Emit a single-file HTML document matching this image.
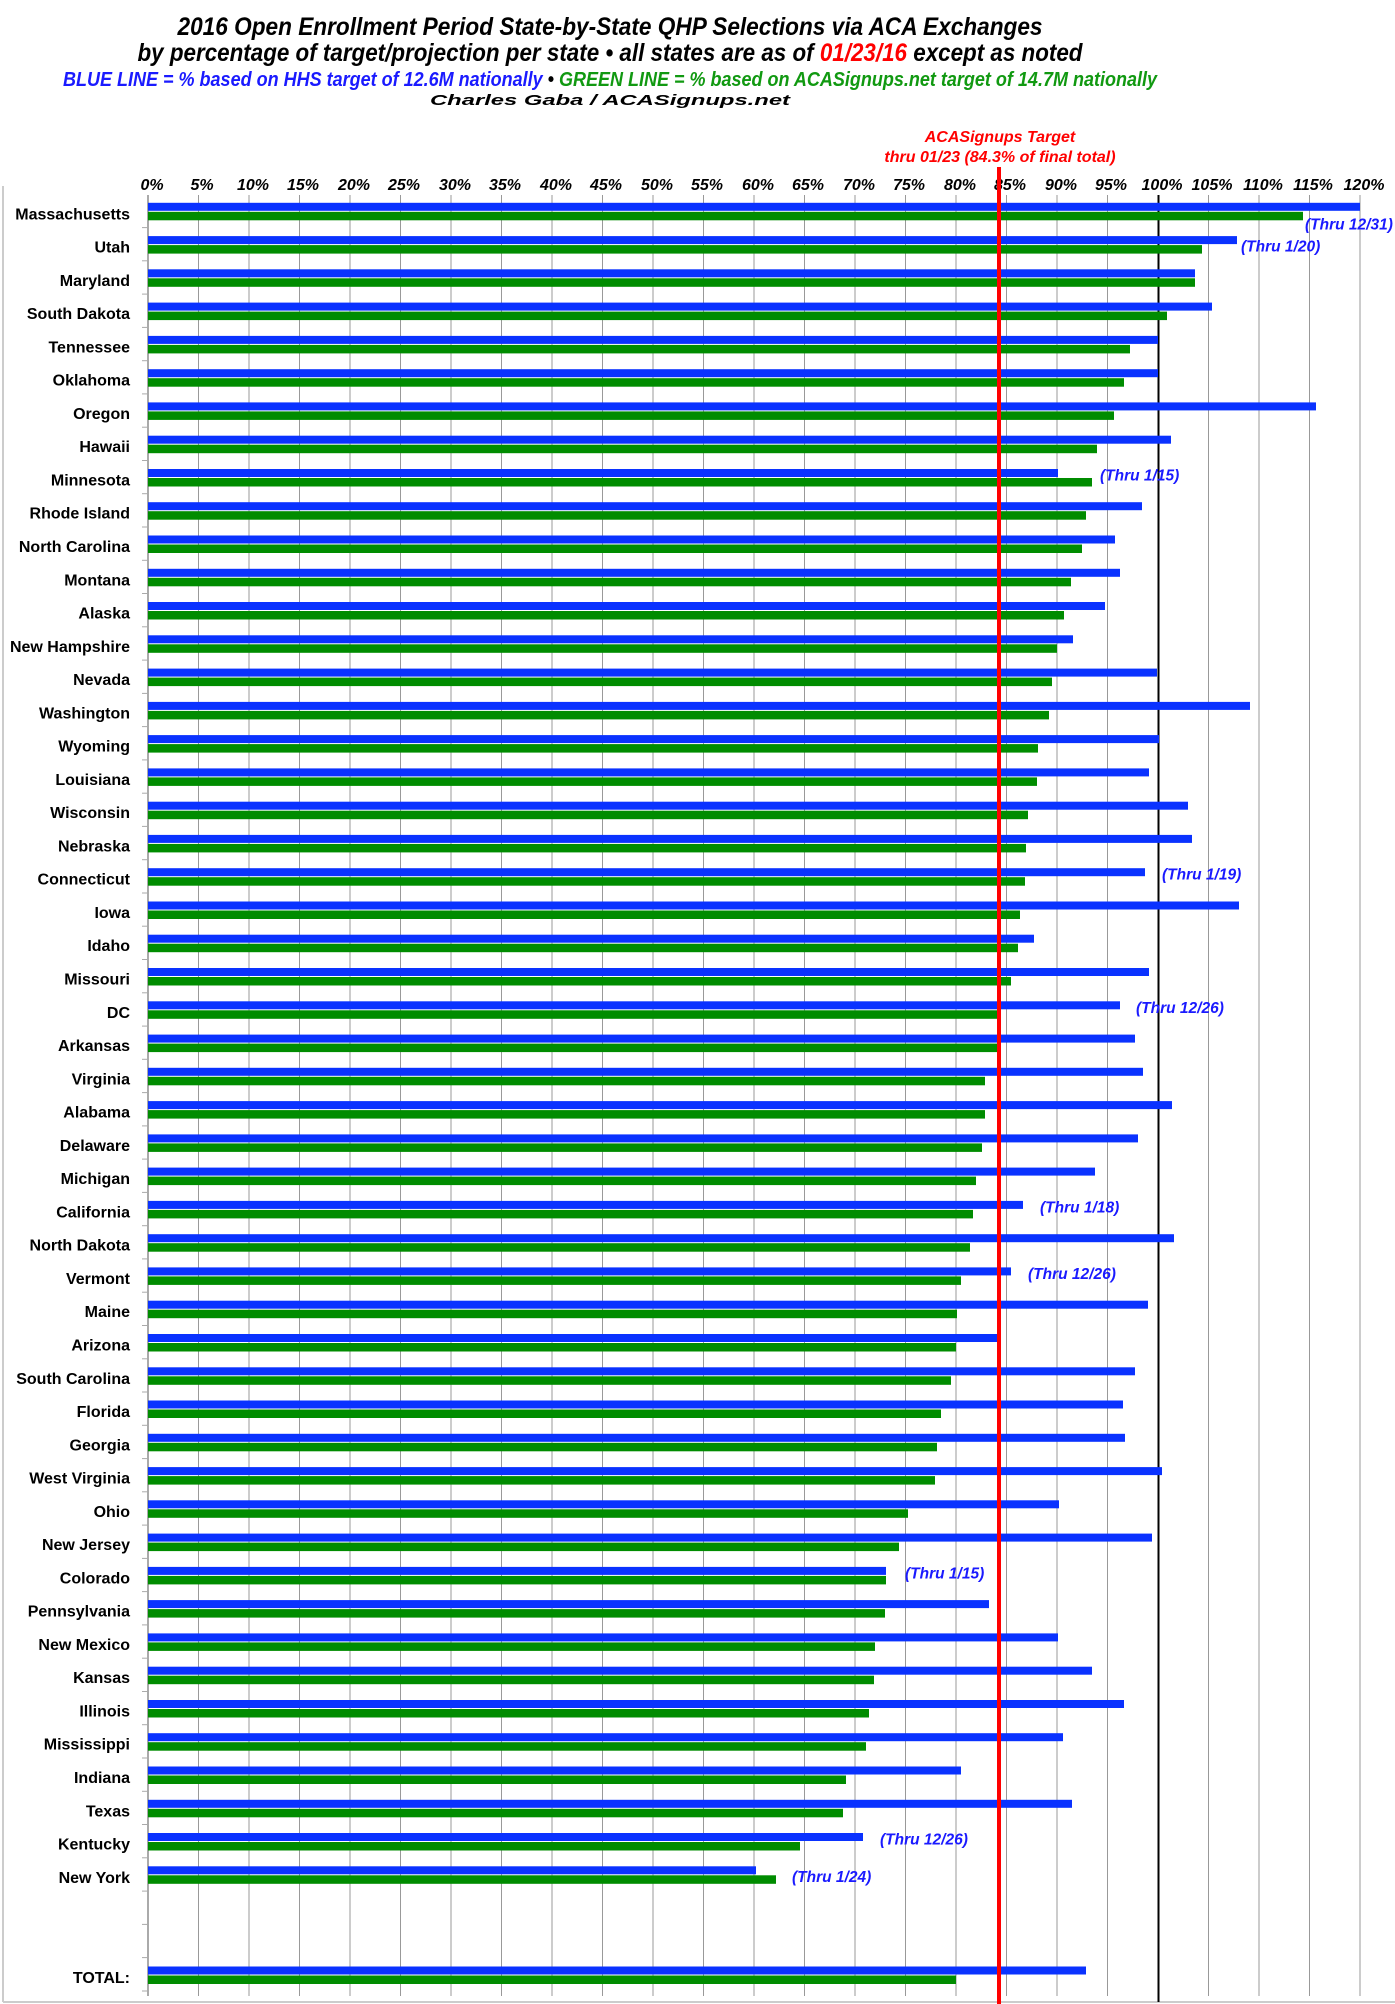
<!DOCTYPE html>
<html><head><meta charset="utf-8"><style>
html,body{margin:0;padding:0;background:#fff;}
svg{display:block;font-family:"Liberation Sans",Arial,sans-serif;}
.t{font-weight:bold;font-style:italic;}
.ax{font-weight:bold;font-style:italic;font-size:16px;text-anchor:middle;fill:#000;}
.lb{font-weight:bold;font-size:16px;text-anchor:end;fill:#000;}
.an{font-weight:bold;font-style:italic;font-size:15.5px;fill:#1a1aff;}
.b{fill:#0a32ff;}
.g{fill:#008c00;}
</style></head><body>
<svg width="1395" height="2004" viewBox="0 0 1395 2004" xmlns="http://www.w3.org/2000/svg">
<rect width="1395" height="2004" fill="#fff"/>
<!-- titles -->
<text class="t" x="610" y="35" font-size="25" text-anchor="middle" textLength="865" lengthAdjust="spacingAndGlyphs">2016 Open Enrollment Period State-by-State QHP Selections via ACA Exchanges</text>
<text class="t" x="610" y="61" font-size="25" text-anchor="middle" textLength="945" lengthAdjust="spacingAndGlyphs">by percentage of target/projection per state  •  all states are as of <tspan fill="#ff0000">01/23/16</tspan> except as noted</text>
<text class="t" x="610" y="86" font-size="20" text-anchor="middle" textLength="1094" lengthAdjust="spacingAndGlyphs"><tspan fill="#1a1aff">BLUE LINE = % based on HHS target of 12.6M nationally</tspan>  •  <tspan fill="#119911">GREEN LINE = % based on ACASignups.net target of 14.7M nationally</tspan></text>
<text class="t" x="610" y="105" font-size="15" text-anchor="middle" textLength="360" lengthAdjust="spacingAndGlyphs">Charles Gaba / ACASignups.net</text>
<text class="t" x="1000" y="142" font-size="16" fill="#ff0000" text-anchor="middle">ACASignups Target</text>
<text class="t" x="1000" y="162" font-size="16" fill="#ff0000" text-anchor="middle">thru 01/23 (84.3% of final total)</text>

<!-- frame -->
<line x1="3" y1="186" x2="3" y2="2002" stroke="#ccc" stroke-width="2"/>
<line x1="3" y1="2002" x2="1395" y2="2002" stroke="#ccc" stroke-width="2"/>

<!-- grid -->
<g stroke="#999" stroke-width="1">
<line x1="198.5" y1="195" x2="198.5" y2="1996"/><line x1="249" y1="195" x2="249" y2="1996"/><line x1="299.5" y1="195" x2="299.5" y2="1996"/><line x1="350" y1="195" x2="350" y2="1996"/><line x1="400.5" y1="195" x2="400.5" y2="1996"/><line x1="451" y1="195" x2="451" y2="1996"/><line x1="501.5" y1="195" x2="501.5" y2="1996"/><line x1="552" y1="195" x2="552" y2="1996"/><line x1="602.5" y1="195" x2="602.5" y2="1996"/><line x1="653" y1="195" x2="653" y2="1996"/><line x1="703.5" y1="195" x2="703.5" y2="1996"/><line x1="754" y1="195" x2="754" y2="1996"/><line x1="804.5" y1="195" x2="804.5" y2="1996"/><line x1="855" y1="195" x2="855" y2="1996"/><line x1="905.5" y1="195" x2="905.5" y2="1996"/><line x1="956" y1="195" x2="956" y2="1996"/><line x1="1006.5" y1="195" x2="1006.5" y2="1996"/><line x1="1057" y1="195" x2="1057" y2="1996"/><line x1="1107.5" y1="195" x2="1107.5" y2="1996"/><line x1="1208.5" y1="195" x2="1208.5" y2="1996"/><line x1="1259" y1="195" x2="1259" y2="1996"/><line x1="1309.5" y1="195" x2="1309.5" y2="1996"/><line x1="1360" y1="195" x2="1360" y2="1996"/>
</g>
<line x1="148" y1="195" x2="148" y2="1996" stroke="#aaa" stroke-width="2"/>
<line x1="1158.5" y1="195" x2="1158.5" y2="2002" stroke="#000" stroke-width="2"/>

<!-- axis labels -->
<g class="ax">
<text x="152" y="190">0%</text><text x="202" y="190">5%</text><text x="253" y="190">10%</text><text x="303" y="190">15%</text><text x="354" y="190">20%</text><text x="404" y="190">25%</text><text x="455" y="190">30%</text><text x="505" y="190">35%</text><text x="556" y="190">40%</text><text x="606" y="190">45%</text><text x="657" y="190">50%</text><text x="707" y="190">55%</text><text x="758" y="190">60%</text><text x="808" y="190">65%</text><text x="859" y="190">70%</text><text x="909" y="190">75%</text><text x="960" y="190">80%</text><text x="1010" y="190">85%</text><text x="1061" y="190">90%</text><text x="1111" y="190">95%</text><text x="1162" y="190">100%</text><text x="1212" y="190">105%</text><text x="1263" y="190">110%</text><text x="1313" y="190">115%</text><text x="1364" y="190">120%</text>
</g>

<!-- rows -->
<g transform="translate(0,194.3)"><text class="lb" x="130" y="25">Massachusetts</text><rect class="b" x="148" y="8.5" width="1212" height="8"/><rect class="g" x="148" y="17.5" width="1155" height="8.5"/><text class="an" x="1305" y="35">(Thru 12/31)</text></g>
<g transform="translate(0,227.6)"><text class="lb" x="130" y="25">Utah</text><rect class="b" x="148" y="8.5" width="1089" height="8"/><rect class="g" x="148" y="17.5" width="1054" height="8.5"/><text class="an" x="1241" y="24">(Thru 1/20)</text></g>
<g transform="translate(0,260.8)"><text class="lb" x="130" y="25">Maryland</text><rect class="b" x="148" y="8.5" width="1047" height="8"/><rect class="g" x="148" y="17.5" width="1047" height="8.5"/></g>
<g transform="translate(0,294.1)"><text class="lb" x="130" y="25">South Dakota</text><rect class="b" x="148" y="8.5" width="1064" height="8"/><rect class="g" x="148" y="17.5" width="1019" height="8.5"/></g>
<g transform="translate(0,327.4)"><text class="lb" x="130" y="25">Tennessee</text><rect class="b" x="148" y="8.5" width="1010" height="8"/><rect class="g" x="148" y="17.5" width="982" height="8.5"/></g>
<g transform="translate(0,360.7)"><text class="lb" x="130" y="25">Oklahoma</text><rect class="b" x="148" y="8.5" width="1010" height="8"/><rect class="g" x="148" y="17.5" width="976" height="8.5"/></g>
<g transform="translate(0,393.9)"><text class="lb" x="130" y="25">Oregon</text><rect class="b" x="148" y="8.5" width="1168" height="8"/><rect class="g" x="148" y="17.5" width="966" height="8.5"/></g>
<g transform="translate(0,427.2)"><text class="lb" x="130" y="25">Hawaii</text><rect class="b" x="148" y="8.5" width="1023" height="8"/><rect class="g" x="148" y="17.5" width="949" height="8.5"/></g>
<g transform="translate(0,460.5)"><text class="lb" x="130" y="25">Minnesota</text><rect class="b" x="148" y="8.5" width="910" height="8"/><rect class="g" x="148" y="17.5" width="944" height="8.5"/><text class="an" x="1100" y="20">(Thru 1/15)</text></g>
<g transform="translate(0,493.7)"><text class="lb" x="130" y="25">Rhode Island</text><rect class="b" x="148" y="8.5" width="994" height="8"/><rect class="g" x="148" y="17.5" width="938" height="8.5"/></g>
<g transform="translate(0,527.0)"><text class="lb" x="130" y="25">North Carolina</text><rect class="b" x="148" y="8.5" width="967" height="8"/><rect class="g" x="148" y="17.5" width="934" height="8.5"/></g>
<g transform="translate(0,560.3)"><text class="lb" x="130" y="25">Montana</text><rect class="b" x="148" y="8.5" width="972" height="8"/><rect class="g" x="148" y="17.5" width="923" height="8.5"/></g>
<g transform="translate(0,593.5)"><text class="lb" x="130" y="25">Alaska</text><rect class="b" x="148" y="8.5" width="957" height="8"/><rect class="g" x="148" y="17.5" width="916" height="8.5"/></g>
<g transform="translate(0,626.8)"><text class="lb" x="130" y="25">New Hampshire</text><rect class="b" x="148" y="8.5" width="925" height="8"/><rect class="g" x="148" y="17.5" width="909" height="8.5"/></g>
<g transform="translate(0,660.1)"><text class="lb" x="130" y="25">Nevada</text><rect class="b" x="148" y="8.5" width="1009" height="8"/><rect class="g" x="148" y="17.5" width="904" height="8.5"/></g>
<g transform="translate(0,693.4)"><text class="lb" x="130" y="25">Washington</text><rect class="b" x="148" y="8.5" width="1102" height="8"/><rect class="g" x="148" y="17.5" width="901" height="8.5"/></g>
<g transform="translate(0,726.6)"><text class="lb" x="130" y="25">Wyoming</text><rect class="b" x="148" y="8.5" width="1011" height="8"/><rect class="g" x="148" y="17.5" width="890" height="8.5"/></g>
<g transform="translate(0,759.9)"><text class="lb" x="130" y="25">Louisiana</text><rect class="b" x="148" y="8.5" width="1001" height="8"/><rect class="g" x="148" y="17.5" width="889" height="8.5"/></g>
<g transform="translate(0,793.2)"><text class="lb" x="130" y="25">Wisconsin</text><rect class="b" x="148" y="8.5" width="1040" height="8"/><rect class="g" x="148" y="17.5" width="880" height="8.5"/></g>
<g transform="translate(0,826.4)"><text class="lb" x="130" y="25">Nebraska</text><rect class="b" x="148" y="8.5" width="1044" height="8"/><rect class="g" x="148" y="17.5" width="878" height="8.5"/></g>
<g transform="translate(0,859.7)"><text class="lb" x="130" y="25">Connecticut</text><rect class="b" x="148" y="8.5" width="997" height="8"/><rect class="g" x="148" y="17.5" width="877" height="8.5"/><text class="an" x="1162" y="20">(Thru 1/19)</text></g>
<g transform="translate(0,893.0)"><text class="lb" x="130" y="25">Iowa</text><rect class="b" x="148" y="8.5" width="1091" height="8"/><rect class="g" x="148" y="17.5" width="872" height="8.5"/></g>
<g transform="translate(0,926.2)"><text class="lb" x="130" y="25">Idaho</text><rect class="b" x="148" y="8.5" width="886" height="8"/><rect class="g" x="148" y="17.5" width="870" height="8.5"/></g>
<g transform="translate(0,959.5)"><text class="lb" x="130" y="25">Missouri</text><rect class="b" x="148" y="8.5" width="1001" height="8"/><rect class="g" x="148" y="17.5" width="863" height="8.5"/></g>
<g transform="translate(0,992.8)"><text class="lb" x="130" y="25">DC</text><rect class="b" x="148" y="8.5" width="972" height="8"/><rect class="g" x="148" y="17.5" width="852" height="8.5"/><text class="an" x="1136" y="20">(Thru 12/26)</text></g>
<g transform="translate(0,1026.1)"><text class="lb" x="130" y="25">Arkansas</text><rect class="b" x="148" y="8.5" width="987" height="8"/><rect class="g" x="148" y="17.5" width="851" height="8.5"/></g>
<g transform="translate(0,1059.3)"><text class="lb" x="130" y="25">Virginia</text><rect class="b" x="148" y="8.5" width="995" height="8"/><rect class="g" x="148" y="17.5" width="837" height="8.5"/></g>
<g transform="translate(0,1092.6)"><text class="lb" x="130" y="25">Alabama</text><rect class="b" x="148" y="8.5" width="1024" height="8"/><rect class="g" x="148" y="17.5" width="837" height="8.5"/></g>
<g transform="translate(0,1125.9)"><text class="lb" x="130" y="25">Delaware</text><rect class="b" x="148" y="8.5" width="990" height="8"/><rect class="g" x="148" y="17.5" width="834" height="8.5"/></g>
<g transform="translate(0,1159.1)"><text class="lb" x="130" y="25">Michigan</text><rect class="b" x="148" y="8.5" width="947" height="8"/><rect class="g" x="148" y="17.5" width="828" height="8.5"/></g>
<g transform="translate(0,1192.4)"><text class="lb" x="130" y="25">California</text><rect class="b" x="148" y="8.5" width="875" height="8"/><rect class="g" x="148" y="17.5" width="825" height="8.5"/><text class="an" x="1040" y="20">(Thru 1/18)</text></g>
<g transform="translate(0,1225.7)"><text class="lb" x="130" y="25">North Dakota</text><rect class="b" x="148" y="8.5" width="1026" height="8"/><rect class="g" x="148" y="17.5" width="822" height="8.5"/></g>
<g transform="translate(0,1258.9)"><text class="lb" x="130" y="25">Vermont</text><rect class="b" x="148" y="8.5" width="863" height="8"/><rect class="g" x="148" y="17.5" width="813" height="8.5"/><text class="an" x="1028" y="20">(Thru 12/26)</text></g>
<g transform="translate(0,1292.2)"><text class="lb" x="130" y="25">Maine</text><rect class="b" x="148" y="8.5" width="1000" height="8"/><rect class="g" x="148" y="17.5" width="809" height="8.5"/></g>
<g transform="translate(0,1325.5)"><text class="lb" x="130" y="25">Arizona</text><rect class="b" x="148" y="8.5" width="850" height="8"/><rect class="g" x="148" y="17.5" width="808" height="8.5"/></g>
<g transform="translate(0,1358.8)"><text class="lb" x="130" y="25">South Carolina</text><rect class="b" x="148" y="8.5" width="987" height="8"/><rect class="g" x="148" y="17.5" width="803" height="8.5"/></g>
<g transform="translate(0,1392.0)"><text class="lb" x="130" y="25">Florida</text><rect class="b" x="148" y="8.5" width="975" height="8"/><rect class="g" x="148" y="17.5" width="793" height="8.5"/></g>
<g transform="translate(0,1425.3)"><text class="lb" x="130" y="25">Georgia</text><rect class="b" x="148" y="8.5" width="977" height="8"/><rect class="g" x="148" y="17.5" width="789" height="8.5"/></g>
<g transform="translate(0,1458.6)"><text class="lb" x="130" y="25">West Virginia</text><rect class="b" x="148" y="8.5" width="1014" height="8"/><rect class="g" x="148" y="17.5" width="787" height="8.5"/></g>
<g transform="translate(0,1491.8)"><text class="lb" x="130" y="25">Ohio</text><rect class="b" x="148" y="8.5" width="911" height="8"/><rect class="g" x="148" y="17.5" width="760" height="8.5"/></g>
<g transform="translate(0,1525.1)"><text class="lb" x="130" y="25">New Jersey</text><rect class="b" x="148" y="8.5" width="1004" height="8"/><rect class="g" x="148" y="17.5" width="751" height="8.5"/></g>
<g transform="translate(0,1558.4)"><text class="lb" x="130" y="25">Colorado</text><rect class="b" x="148" y="8.5" width="738" height="8"/><rect class="g" x="148" y="17.5" width="738" height="8.5"/><text class="an" x="905" y="20">(Thru 1/15)</text></g>
<g transform="translate(0,1591.6)"><text class="lb" x="130" y="25">Pennsylvania</text><rect class="b" x="148" y="8.5" width="841" height="8"/><rect class="g" x="148" y="17.5" width="737" height="8.5"/></g>
<g transform="translate(0,1624.9)"><text class="lb" x="130" y="25">New Mexico</text><rect class="b" x="148" y="8.5" width="910" height="8"/><rect class="g" x="148" y="17.5" width="727" height="8.5"/></g>
<g transform="translate(0,1658.2)"><text class="lb" x="130" y="25">Kansas</text><rect class="b" x="148" y="8.5" width="944" height="8"/><rect class="g" x="148" y="17.5" width="726" height="8.5"/></g>
<g transform="translate(0,1691.5)"><text class="lb" x="130" y="25">Illinois</text><rect class="b" x="148" y="8.5" width="976" height="8"/><rect class="g" x="148" y="17.5" width="721" height="8.5"/></g>
<g transform="translate(0,1724.7)"><text class="lb" x="130" y="25">Mississippi</text><rect class="b" x="148" y="8.5" width="915" height="8"/><rect class="g" x="148" y="17.5" width="718" height="8.5"/></g>
<g transform="translate(0,1758.0)"><text class="lb" x="130" y="25">Indiana</text><rect class="b" x="148" y="8.5" width="813" height="8"/><rect class="g" x="148" y="17.5" width="698" height="8.5"/></g>
<g transform="translate(0,1791.3)"><text class="lb" x="130" y="25">Texas</text><rect class="b" x="148" y="8.5" width="924" height="8"/><rect class="g" x="148" y="17.5" width="695" height="8.5"/></g>
<g transform="translate(0,1824.5)"><text class="lb" x="130" y="25">Kentucky</text><rect class="b" x="148" y="8.5" width="715" height="8"/><rect class="g" x="148" y="17.5" width="652" height="8.5"/><text class="an" x="880" y="20">(Thru 12/26)</text></g>
<g transform="translate(0,1857.8)"><text class="lb" x="130" y="25">New York</text><rect class="b" x="148" y="8.5" width="608" height="8"/><rect class="g" x="148" y="17.5" width="628" height="8.5"/><text class="an" x="792" y="24">(Thru 1/24)</text></g>
<g transform="translate(0,1958.0)"><text class="lb" x="130" y="25">TOTAL:</text><rect class="b" x="148" y="8.5" width="938" height="8"/><rect class="g" x="148" y="17.5" width="808" height="8.5"/></g>

<!-- y ticks -->
<g stroke="#aaa" stroke-width="1">
<line x1="142" y1="227.6" x2="148" y2="227.6"/><line x1="142" y1="260.8" x2="148" y2="260.8"/><line x1="142" y1="294.1" x2="148" y2="294.1"/><line x1="142" y1="327.4" x2="148" y2="327.4"/><line x1="142" y1="360.7" x2="148" y2="360.7"/><line x1="142" y1="393.9" x2="148" y2="393.9"/><line x1="142" y1="427.2" x2="148" y2="427.2"/><line x1="142" y1="460.5" x2="148" y2="460.5"/><line x1="142" y1="493.7" x2="148" y2="493.7"/><line x1="142" y1="527" x2="148" y2="527"/><line x1="142" y1="560.3" x2="148" y2="560.3"/><line x1="142" y1="593.5" x2="148" y2="593.5"/><line x1="142" y1="626.8" x2="148" y2="626.8"/><line x1="142" y1="660.1" x2="148" y2="660.1"/><line x1="142" y1="693.4" x2="148" y2="693.4"/><line x1="142" y1="726.6" x2="148" y2="726.6"/><line x1="142" y1="759.9" x2="148" y2="759.9"/><line x1="142" y1="793.2" x2="148" y2="793.2"/><line x1="142" y1="826.4" x2="148" y2="826.4"/><line x1="142" y1="859.7" x2="148" y2="859.7"/><line x1="142" y1="893" x2="148" y2="893"/><line x1="142" y1="926.2" x2="148" y2="926.2"/><line x1="142" y1="959.5" x2="148" y2="959.5"/><line x1="142" y1="992.8" x2="148" y2="992.8"/><line x1="142" y1="1026.1" x2="148" y2="1026.1"/><line x1="142" y1="1059.3" x2="148" y2="1059.3"/><line x1="142" y1="1092.6" x2="148" y2="1092.6"/><line x1="142" y1="1125.9" x2="148" y2="1125.9"/><line x1="142" y1="1159.1" x2="148" y2="1159.1"/><line x1="142" y1="1192.4" x2="148" y2="1192.4"/><line x1="142" y1="1225.7" x2="148" y2="1225.7"/><line x1="142" y1="1258.9" x2="148" y2="1258.9"/><line x1="142" y1="1292.2" x2="148" y2="1292.2"/><line x1="142" y1="1325.5" x2="148" y2="1325.5"/><line x1="142" y1="1358.8" x2="148" y2="1358.8"/><line x1="142" y1="1392" x2="148" y2="1392"/><line x1="142" y1="1425.3" x2="148" y2="1425.3"/><line x1="142" y1="1458.6" x2="148" y2="1458.6"/><line x1="142" y1="1491.8" x2="148" y2="1491.8"/><line x1="142" y1="1525.1" x2="148" y2="1525.1"/><line x1="142" y1="1558.4" x2="148" y2="1558.4"/><line x1="142" y1="1591.6" x2="148" y2="1591.6"/><line x1="142" y1="1624.9" x2="148" y2="1624.9"/><line x1="142" y1="1658.2" x2="148" y2="1658.2"/><line x1="142" y1="1691.5" x2="148" y2="1691.5"/><line x1="142" y1="1724.7" x2="148" y2="1724.7"/><line x1="142" y1="1758" x2="148" y2="1758"/><line x1="142" y1="1791.3" x2="148" y2="1791.3"/><line x1="142" y1="1824.5" x2="148" y2="1824.5"/><line x1="142" y1="1857.8" x2="148" y2="1857.8"/><line x1="142" y1="1891.1" x2="148" y2="1891.1"/><line x1="142" y1="1924.4" x2="148" y2="1924.4"/><line x1="142" y1="1957.6" x2="148" y2="1957.6"/><line x1="142" y1="1991" x2="148" y2="1991"/>
</g>

<!-- red target line -->
<rect x="997" y="167" width="4" height="1837" fill="#ff0000"/>
</svg>
</body></html>
